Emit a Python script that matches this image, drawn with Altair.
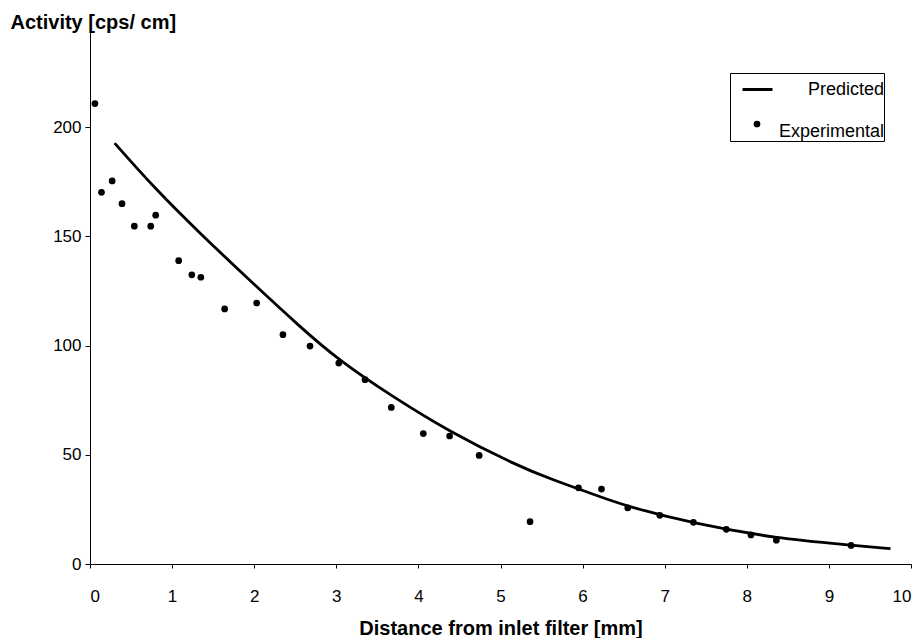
import altair as alt
import pandas as pd

# Experimental points
exp_x = [0.06, 0.14, 0.27, 0.39, 0.54, 0.74, 0.80, 1.08, 1.24, 1.35, 1.64, 2.03, 2.35, 2.68, 3.03,
         3.35, 3.67, 4.06, 4.38, 4.74, 5.36, 5.95, 6.23, 6.55, 6.94, 7.35, 7.75, 8.05, 8.36, 9.27]
exp_y = [210.8, 170.2, 175.4, 165.0, 154.7, 154.7, 159.7, 138.9, 132.4, 131.3, 116.8, 119.5, 105.0, 99.8, 92.0,
         84.4, 71.7, 59.7, 58.6, 49.7, 19.4, 34.9, 34.3, 25.7, 22.3, 19.1, 15.9, 13.3, 10.9, 8.5]

# Predicted curve
pred_x = [0.30, 0.80, 1.34, 1.95, 2.56, 3.03, 3.67, 4.38, 5.20, 5.60, 6.31, 6.55, 7.35, 8.36, 9.27, 9.75]
pred_y = [192.7, 171.5, 151.4, 129.7, 108.5, 93.3, 77.0, 60.5, 45.1, 39.0, 29.5, 26.4, 18.5, 11.7, 8.7, 7.0]

series = ["Predicted", "Experimental"]
x_ticks = list(range(0, 11))
y_ticks = [0, 50, 100, 150, 200]

FONT = "Liberation Sans"

exp_df = pd.DataFrame({"x": exp_x, "y": exp_y, "series": "Experimental"})
pred_df = pd.DataFrame({"x": pred_x, "y": pred_y, "series": "Predicted"})

x_enc = alt.X(
    "x:Q",
    scale=alt.Scale(domain=[0, 10], nice=False),
    axis=alt.Axis(
        values=x_ticks, format="d", title="Distance from inlet filter [mm]",
        tickSize=4, labelPadding=20, labelFontSize=17,
        titleY=70, titleBaseline="alphabetic", titleFontSize=20, titleFontWeight="bold",
    ),
)
y_enc = alt.Y(
    "y:Q",
    scale=alt.Scale(domain=[0, 250], nice=False),
    axis=alt.Axis(
        values=y_ticks, format="d", title="Activity [cps/ cm]",
        tickSize=5, labelPadding=4, labelFontSize=17,
        titleAngle=0, titleX=-80, titleY=10, titleAlign="left", titleBaseline="alphabetic",
        titleFontSize=20, titleFontWeight="bold",
    ),
)

# Boxed legend (line layer): both labels, line symbol for "Predicted"
line = alt.Chart(pred_df).mark_line(
    strokeWidth=2.8, interpolate="basis"
).encode(
    x=x_enc, y=y_enc,
    stroke=alt.Stroke(
        "series:N",
        scale=alt.Scale(domain=series, range=["black", "transparent"]),
        legend=alt.Legend(
            title=None, orient="none", legendX=640, legendY=55,
            strokeColor="black", padding=0, symbolOffset=11,
            symbolType="stroke", symbolSize=900, symbolStrokeWidth=3,
            labelAlign="right", labelOffset=110, labelFontSize=18, labelFont=FONT,
            labelColor="black", rowPadding=16,
        ),
    ),
)

# Dot symbol for "Experimental" (point layer), drawn inside the same box
pts = alt.Chart(exp_df).mark_circle(size=45, opacity=1).encode(
    x="x:Q",
    y="y:Q",
    color=alt.Color(
        "series:N",
        scale=alt.Scale(domain=["Experimental"], range=["black"]),
        legend=alt.Legend(
            title=None, orient="none", legendX=663.5, legendY=102.5,
            padding=0, symbolOffset=0, symbolType="circle", symbolSize=45,
            symbolStrokeWidth=0, labelExpr="''", labelFontSize=1, labelOffset=0,
        ),
    ),
)

chart = alt.layer(line, pts).resolve_legend(color="independent", stroke="independent").properties(
    width=821, height=546,
    autosize=alt.AutoSizeParams(type="none"),
    padding={"left": 82, "top": 10, "right": 5, "bottom": 74},
    background="white",
).configure_view(stroke=None).configure_axis(
    grid=False, domainColor="black", domainWidth=1, tickColor="black", tickWidth=1,
    labelColor="black", titleColor="black", labelFont=FONT, titleFont=FONT,
)

chart.save("out.html", embed_options={"renderer": "svg", "actions": False})
